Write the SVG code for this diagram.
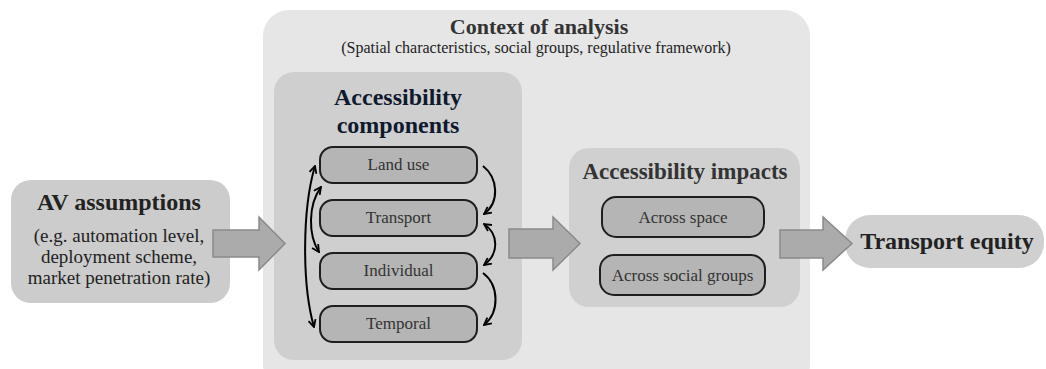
<svg xmlns="http://www.w3.org/2000/svg" width="1046" height="369" viewBox="0 0 1046 369">
<style>
text{font-family:'Liberation Serif',Tinos,'Times New Roman',Times,'Nimbus Roman','Noto Serif','DejaVu Serif',serif}
.title{font-weight:bold}
.box{fill:#b5b5b5;stroke:#1e1e1e;stroke-width:2}
.lbl{font-size:17px;fill:#333;text-anchor:middle}
.blk{fill:#ababab;stroke:#8a8a8a;stroke-width:1.5}
.cur{fill:none;stroke:#000;stroke-width:2}
</style>
<defs>
<marker id="ah" viewBox="0 0 10 10" refX="9" refY="5" markerWidth="9" markerHeight="9" orient="auto-start-reverse" markerUnits="userSpaceOnUse">
<path d="M1,1 L9,5 L1,9" fill="none" stroke="#000" stroke-width="2"/>
</marker>
</defs>
<rect width="1046" height="369" fill="#fff"/>
<g id="context">
<rect x="263" y="10" width="547" height="380" rx="26" fill="#e6e6e6"/>
<text class="title" x="539" y="34" font-size="22" fill="#333" text-anchor="middle">Context of analysis</text>
<text x="536" y="53" font-size="16" fill="#222" text-anchor="middle">(Spatial characteristics, social groups, regulative framework)</text>
</g>
<g id="components">
<rect x="274" y="72" width="248" height="288" rx="20" fill="#cfcfcf"/>
<text class="title" x="398" y="105" font-size="24" fill="#0f1a2e" text-anchor="middle">Accessibility</text>
<text class="title" x="398" y="133" font-size="24" fill="#0f1a2e" text-anchor="middle">components</text>
</g>
<g id="landuse"><rect class="box" x="320" y="147" width="157" height="36" rx="13"/><text class="lbl" x="398.5" y="170">Land use</text></g>
<g id="transport"><rect class="box" x="320" y="200" width="157" height="36" rx="13"/><text class="lbl" x="398.5" y="223">Transport</text></g>
<g id="individual"><rect class="box" x="320" y="253" width="157" height="36" rx="13"/><text class="lbl" x="398.5" y="276">Individual</text></g>
<g id="temporal"><rect class="box" x="320" y="306" width="157" height="36" rx="13"/><text class="lbl" x="398.5" y="329">Temporal</text></g>
<g id="impacts">
<rect x="569" y="148" width="231" height="159" rx="20" fill="#d0d0d0"/>
<text class="title" x="685" y="179" font-size="23" fill="#333" text-anchor="middle">Accessibility impacts</text>
</g>
<g id="space"><rect class="box" x="602" y="197" width="162" height="40" rx="14"/><text class="lbl" x="683" y="223">Across space</text></g>
<g id="social"><rect class="box" x="600" y="255" width="165" height="40" rx="14"/><text class="lbl" x="682.5" y="281">Across social groups</text></g>
<g id="av">
<rect x="11" y="180" width="219" height="123" rx="20" fill="#cccccc"/>
<text class="title" x="119" y="210" font-size="24" fill="#222" text-anchor="middle">AV assumptions</text>
<text x="119" y="242" font-size="19" fill="#222" text-anchor="middle">(e.g. automation level,</text>
<text x="119" y="263" font-size="19" fill="#222" text-anchor="middle">deployment scheme,</text>
<text x="119" y="284" font-size="19" fill="#222" text-anchor="middle">market penetration rate)</text>
</g>
<g id="equity">
<rect x="845" y="215" width="199" height="53" rx="25" fill="#d0d0d0"/>
<text class="title" x="947" y="249" font-size="24" fill="#222" text-anchor="middle">Transport equity</text>
</g>
<g id="connectors">
<path class="blk" d="M213,230 L259,230 L259,217 L285,243.5 L259,270 L259,257 L213,257 Z"/>
<path class="blk" d="M509,229 L553,229 L553,217 L580,243.5 L553,270 L553,258 L509,258 Z"/>
<path class="blk" d="M780,230 L823,230 L823,217 L852,243.5 L823,270 L823,258 L780,258 Z"/>
<path class="cur" d="M315,166 C302,210 302,285 314,327" marker-start="url(#ah)" marker-end="url(#ah)"/>
<path class="cur" d="M321,187 C308,205 308,235 319,252" marker-start="url(#ah)" marker-end="url(#ah)"/>
<path class="cur" d="M483,166 C498,178 500,202 484,214" marker-end="url(#ah)"/>
<path class="cur" d="M484,224 C499,234 499,254 484,265" marker-start="url(#ah)" marker-end="url(#ah)"/>
<path class="cur" d="M483,273 C499,285 500,312 484,325" marker-end="url(#ah)"/>
</g>
</svg>
